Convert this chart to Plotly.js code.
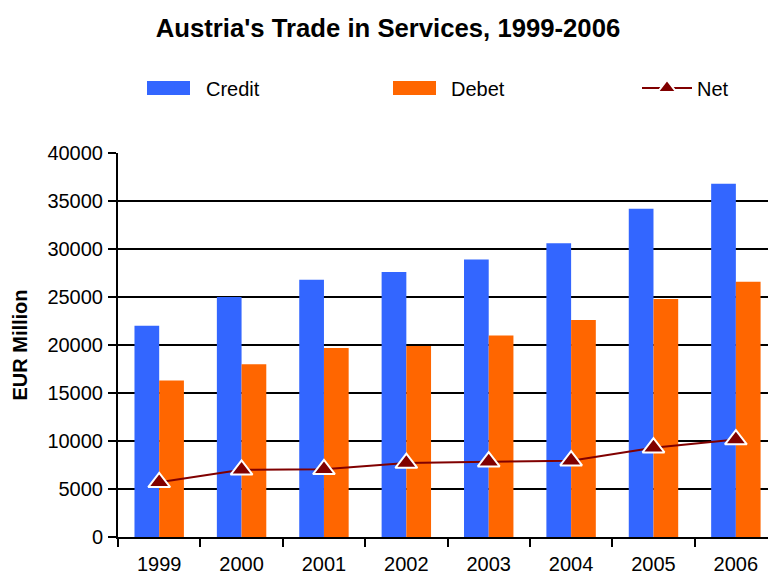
<!DOCTYPE html>
<html>
<head>
<meta charset="utf-8">
<script src="https://cdn.plot.ly/plotly-3.0.1.min.js"></script>
<style>html,body{margin:0;padding:0;background:#fff;}#chart{width:768px;height:576px;}</style>
</head>
<body>
<div id="chart"></div>
<script>
var years = ["1999", "2000", "2001", "2002", "2003", "2004", "2005", "2006"];
var credit = [22000, 25000, 26800, 27600, 28900, 30600, 34200, 36800];
var debet = [16300, 18000, 19700, 19900, 21000, 22600, 24800, 26600];
var net = [5700, 7000, 7050, 7700, 7850, 7950, 9300, 10150];
var yTicks = [0, 5000, 10000, 15000, 20000, 25000, 30000, 35000, 40000];

var FONT = "Liberation Sans, Arial, sans-serif";
var BLUE = "#3366FF", ORANGE = "#FF6600", DARKRED = "#800000";

// plot area in pixels: x 118..768, y 153..537
function px2paperX(px) { return (px - 118) / 650; }
function px2paperY(py) { return (537 - py) / 384; }

var traces = [
  {type: "bar", name: "Credit", x: years, y: credit, legend: "legend",
   marker: {color: BLUE, line: {width: 0}}},
  {type: "bar", name: "Debet", x: years, y: debet, legend: "legend2",
   marker: {color: ORANGE, line: {width: 0}}},
  {type: "scatter", mode: "lines+markers", name: "Net", x: years, y: net, legend: "legend3",
   line: {color: DARKRED, width: 2},
   marker: {symbol: "triangle-up", size: 19, color: DARKRED,
            line: {color: "#FFFFFF", width: 2}}}
];

function legendAt(px, iw) {
  return {orientation: "h", xref: "container", yref: "container",
          x: px / 768, xanchor: "left", y: 1 - 88 / 576, yanchor: "middle",
          itemwidth: iw,
          font: {family: FONT, size: 20, color: "#000000"},
          bgcolor: "rgba(0,0,0,0)", borderwidth: 0};
}

function swatch(x0, x1, color) {
  return {type: "rect", xref: "paper", yref: "paper", layer: "above",
          x0: px2paperX(x0), x1: px2paperX(x1),
          y0: px2paperY(95), y1: px2paperY(81),
          fillcolor: color, line: {width: 0}};
}

var layout = {
  width: 768, height: 576,
  paper_bgcolor: "#FFFFFF", plot_bgcolor: "#FFFFFF",
  font: {family: FONT, size: 20, color: "#000000"},
  margin: {l: 118, r: 0, t: 153, b: 39, pad: 0},
  title: {text: "<b>Austria's Trade in Services, 1999-2006</b>",
          font: {family: FONT, size: 25.7, color: "#000000"},
          x: 388 / 768, xref: "container", xanchor: "center",
          y: 1 - 28 / 576, yref: "container", yanchor: "middle"},
  barmode: "group", bargap: 0.4, bargroupgap: 0,
  showlegend: true,
  legend: legendAt(131, 65),
  legend2: legendAt(376, 65),
  legend3: legendAt(637, 50),
  shapes: [swatch(147, 190, BLUE), swatch(393, 436, ORANGE)],
  xaxis: {type: "category", range: [-0.5, 7.39],
          showline: true, linecolor: "#000000", linewidth: 2,
          ticks: "outside", tickson: "boundaries", ticklen: 8,
          tickcolor: "#000000", tickwidth: 2, showgrid: false,
          tickfont: {family: FONT, size: 20, color: "#000000"},
          ticklabelstandoff: 8, fixedrange: true},
  yaxis: {range: [0, 40000], tickvals: yTicks, ticktext: yTicks.map(String),
          showline: true, linecolor: "#000000", linewidth: 2,
          ticks: "outside", ticklen: 8, tickcolor: "#000000", tickwidth: 2,
          showgrid: true, gridcolor: "#000000", gridwidth: 2,
          zeroline: false,
          tickfont: {family: FONT, size: 20, color: "#000000"},
          ticklabelstandoff: 1,
          title: {text: "<b>EUR Million</b>", font: {family: FONT, size: 20, color: "#000000"}, standoff: 14},
          fixedrange: true}
};

Plotly.newPlot("chart", traces, layout, {displayModeBar: false, staticPlot: true});
</script>
</body>
</html>
